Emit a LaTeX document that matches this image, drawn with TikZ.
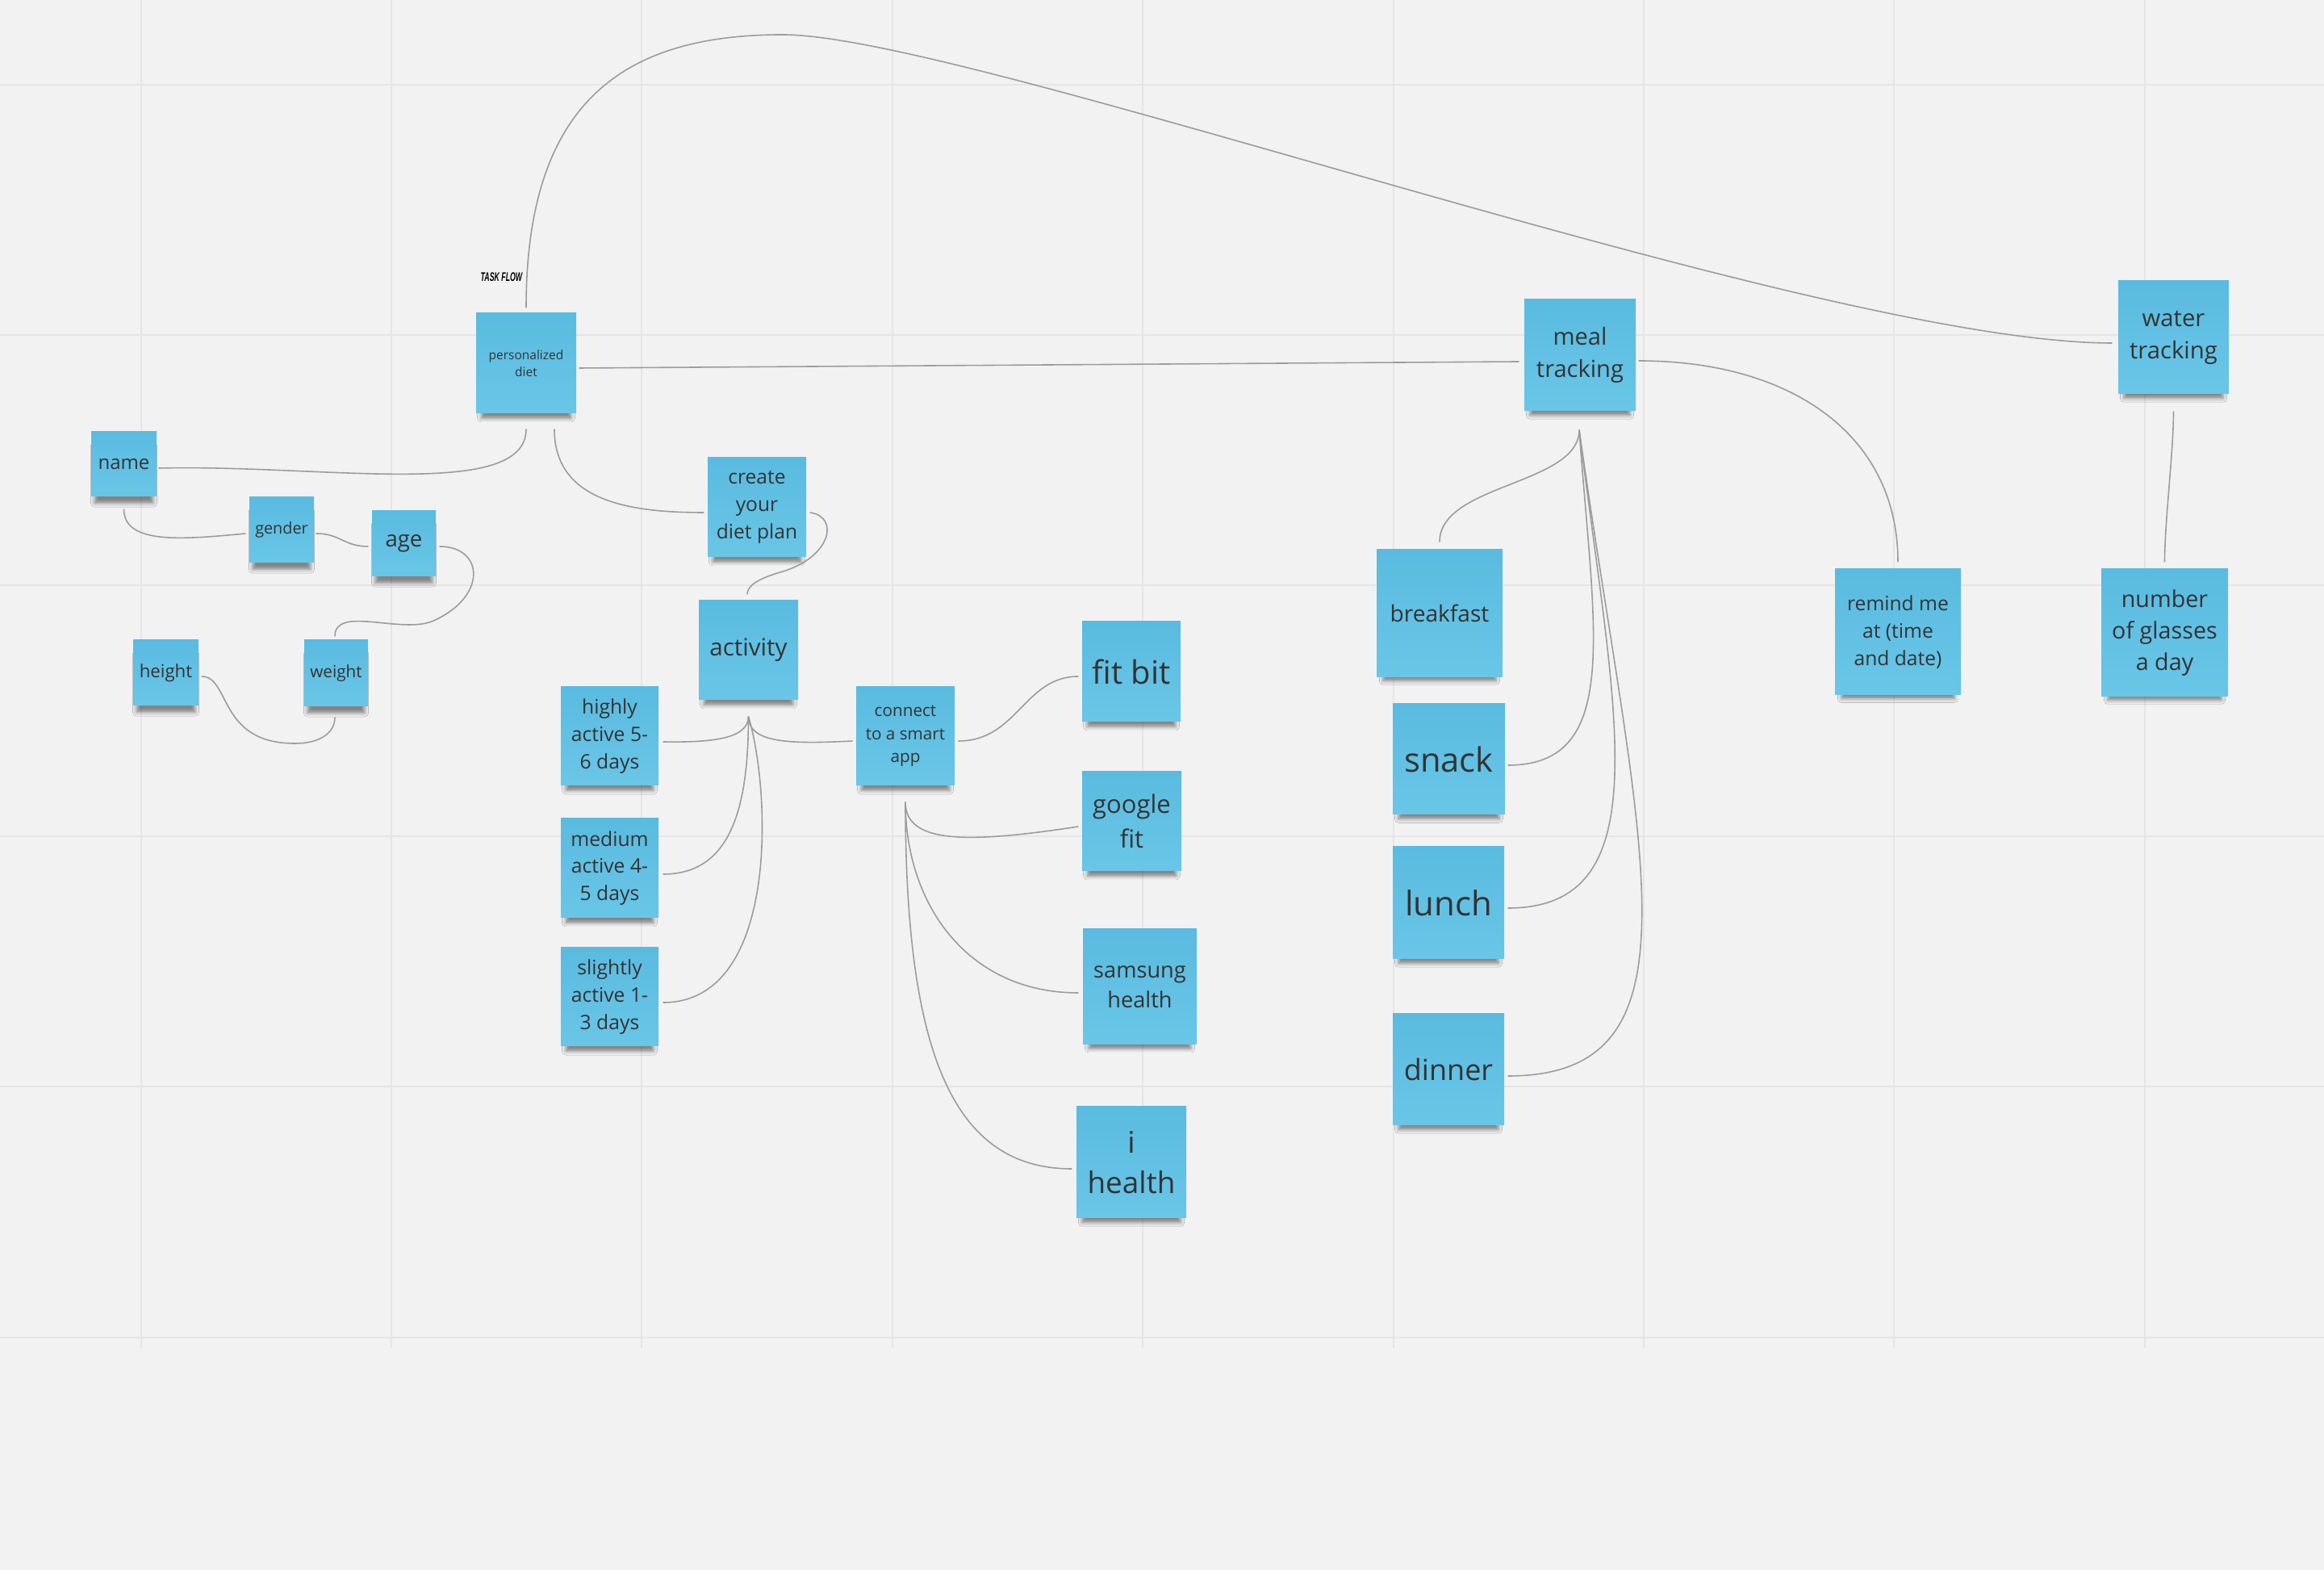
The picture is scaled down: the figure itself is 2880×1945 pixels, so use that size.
\documentclass[tikz,border=0pt]{standalone}
\usepackage{fontspec}
\setmainfont{Open Sans}
\newfontfamily\labelfont{Liberation Sans}
\usetikzlibrary{calc,shadows.blur}

\definecolor{paper}{HTML}{F2F2F2}
\definecolor{gridline}{HTML}{E5E5E5}
\definecolor{stickytop}{HTML}{5ABBE0}
\definecolor{stickybot}{HTML}{69C6E7}
\definecolor{ink}{HTML}{333333}
\definecolor{wirecol}{HTML}{9C9C9C}

% font size given in board pixels (1px = 0.1mm)
\newcommand\pxfont[1]{%
  \pgfmathsetlengthmacro\pxfsz{#1*0.28453pt}%
  \pgfmathsetlengthmacro\pxbsz{#1*0.28453pt*1.37}%
  \fontsize{\pxfsz}{\pxbsz}\selectfont}

\tikzset{
  sticky/.style 2 args={rectangle, inner sep=0pt,
    minimum width=#1*0.1mm, minimum height=#2*0.1mm,
    top color=stickytop, bottom color=stickybot,
    text=ink, align=center,
    blur shadow={shadow xshift=0mm, shadow yshift=-1.4mm, shadow scale=0.9,
      shadow opacity=45, shadow blur radius=0.5mm}},
  wire/.style={draw=wirecol, line width=0.16mm},
  gridrule/.style={draw=gridline, line width=0.2mm},
}

\begin{document}
\begin{tikzpicture}[x=0.1mm, y=-0.1mm]
  % board background
  \fill[paper] (0,0) rectangle (2880,1945);
  \useasboundingbox (0,0) rectangle (2880,1945);

  % board grid
  \foreach \gx in {174.5,485,795,1106,1416,1727,2037,2347,2658}
    \draw[gridrule] (\gx,0) -- (\gx,1670);
  \foreach \gy in {105,415,725,1036,1346,1657}
    \draw[gridrule] (0,\gy) -- (2880,\gy);

  % heading
  \node[font=\labelfont\bfseries\itshape\pxfont{15.4}, text=black, inner sep=0pt]
    (title) at (621.5,343.5) {\scalebox{0.57}[1]{TASK FLOW}};

  % sticky notes
  \node[sticky={124}{124}, font=\pxfont{15.5}] (pd) at (652,450) {personalized\\diet};
  \node[sticky={81}{80}, font=\pxfont{24}] (name) at (153.5,575) {name};
  \node[sticky={80}{81}, font=\pxfont{19.8}] (gender) at (349,656.5) {gender};
  \node[sticky={79}{81}, font=\pxfont{27.6}] (age) at (500.5,673.5) {age};
  \node[sticky={81}{81}, font=\pxfont{22.2}] (height) at (205.5,833.5) {height};
  \node[sticky={79}{82}, font=\pxfont{20.7}] (weight) at (416.5,834) {weight};
  \node[sticky={122}{123}, font=\pxfont{24.6}] (create) at (938,628.5) {create\\your\\diet plan};
  \node[sticky={123}{123}, font=\pxfont{29.6}] (activity) at (927.5,805.5) {activity};
  \node[sticky={121}{122}, font=\pxfont{24.7}] (highly) at (755.5,912) {highly\\active 5-\\6 days};
  \node[sticky={121}{123}, font=\pxfont{24.7}] (medium) at (755.5,1075.5) {medium\\active 4-\\5 days};
  \node[sticky={121}{122}, font=\pxfont{24.7}] (slightly) at (755.5,1235) {slightly\\active 1-\\3 days};
  \node[sticky={122}{122}, font=\pxfont{20.7}] (connect) at (1122,912) {connect\\to a smart\\app};
  \node[sticky={122}{124}, font=\pxfont{40}] (fitbit) at (1402,832) {fit bit};
  \node[sticky={123}{123}, font=\pxfont{31}] (google) at (1402.5,1017.5) {google\\fit};
  \node[sticky={141}{143}, font=\pxfont{27.2}] (samsung) at (1412.5,1222.5) {samsung\\health};
  \node[sticky={136}{138}, font=\pxfont{36.9}] (ihealth) at (1402,1440) {i\\health};
  \node[sticky={138}{138}, font=\pxfont{29.1}] (meal) at (1958,440) {meal\\tracking};
  \node[sticky={137}{140}, font=\pxfont{29.3}] (water) at (2693.5,418) {water\\tracking};
  \node[sticky={156}{158}, font=\pxfont{28.1}] (breakfast) at (1784,760) {breakfast};
  \node[sticky={139}{137}, font=\pxfont{41.7}] (snack) at (1795.5,940.5) {snack};
  \node[sticky={138}{139}, font=\pxfont{42}] (lunch) at (1795,1118.5) {lunch};
  \node[sticky={138}{138}, font=\pxfont{36}] (dinner) at (1795,1325) {dinner};
  \node[sticky={156}{156}, font=\pxfont{24.6}] (remind) at (2352,783) {remind me\\at (time\\and date)};
  \node[sticky={157}{158}, font=\pxfont{28.7}] (glasses) at (2682.5,784) {number\\of glasses\\a day};

  % connectors
  \coordinate (peak) at (970,43);
  \draw[wire] ($(pd.north)+(0,-6)$) .. controls +(0,-262) and +(-190,0) .. (peak)
    .. controls +(230,0) and +(-368,0) .. ($(water.west)+(-7,7)$);
  \draw[wire] ($(pd.east)+(3,6)$) -- ($(meal.west)+(-6,8)$);

  \draw[wire] ($(pd.south)+(0,19)$) .. controls +(0,89) and +(204,-5) .. ($(name.east)+(2,5)$);
  \draw[wire] ($(pd.south)+(35,19)$) .. controls +(0,89) and +(-93,0) .. ($(create.west)+(-4,6.5)$);
  \draw[wire] ($(name.south)+(0,15)$) .. controls +(0,45) and +(-75,7) .. ($(gender.west)+(-4,4.5)$);
  \draw[wire] ($(gender.east)+(2,4.5)$) .. controls +(30,0) and +(-30,0) .. ($(age.west)+(-4,3.5)$);
  \coordinate (agebend) at (535,770);
  \draw[wire] ($(age.east)+(4,3.5)$) .. controls (600,677) and (605,740) .. (agebend)
    .. controls (495,785) and (415,750) .. ($(weight.north)+(-1.5,-4)$);
  \coordinate (heightdip) at (365,921);
  \draw[wire] ($(height.east)+(3,4.5)$) .. controls +(36,0) and (270,921) .. (heightdip)
    .. controls (400,921) and +(0,17) .. ($(weight.south)+(-1.5,13)$);
  \coordinate (planbend) at (970,708);
  \draw[wire] ($(create.east)+(4,6.5)$) .. controls +(37,5) and (1030,690) .. (planbend)
    .. controls (935,718) and +(0,-9) .. ($(activity.north)+(-1.5,-7)$);

  \coordinate (acthub) at ($(activity.south)+(0,20)$);
  \draw[wire] (acthub) .. controls +(0,28) and +(59,1) .. ($(highly.east)+(5,7)$);
  \draw[wire] (acthub) .. controls +(0,33) and +(-77,4) .. ($(connect.west)+(-4,6)$);
  \draw[wire] (acthub) .. controls +(0,113) and +(84,0) .. ($(medium.east)+(5,7.5)$);
  \draw[wire] (acthub) .. controls +(28,93) and +(144,0) .. ($(slightly.east)+(5,7)$);

  \draw[wire] ($(connect.east)+(4,6)$) .. controls +(73,0) and +(-67,0) .. ($(fitbit.west)+(-4,6)$);
  \coordinate (apphub) at ($(connect.south)+(0,20)$);
  \draw[wire] (apphub) .. controls +(0,52) and +(-137,21) .. ($(google.west)+(-4,6.5)$);
  \draw[wire] (apphub) .. controls +(0,127) and +(-137,0) .. ($(samsung.west)+(-5,7.5)$);
  \draw[wire] (apphub) .. controls +(0,307) and +(-149,0) .. ($(ihealth.west)+(-5,8)$);

  \coordinate (mealhub) at ($(meal.south)+(-1,23)$);
  \draw[wire] (mealhub) .. controls +(0,68) and +(0,-72) .. ($(breakfast.north)+(0,-9)$);
  \draw[wire] (mealhub) .. controls +(18,248) and +(142,0) .. ($(snack.east)+(3,7.5)$);
  \draw[wire] (mealhub) .. controls +(43,348) and +(192,0) .. ($(lunch.east)+(4,6.5)$);
  \draw[wire] (mealhub) .. controls +(73,518) and +(252,0) .. ($(dinner.east)+(4,8)$);
  \draw[wire] ($(meal.east)+(3,7)$) .. controls +(190,0) and +(0,-157) .. ($(remind.north)+(0,-8)$);
  \draw[wire] ($(water.south)+(0,21)$) .. controls +(0,50) and +(0,-50) .. ($(glasses.north)+(0,-8)$);
\end{tikzpicture}
\end{document}
